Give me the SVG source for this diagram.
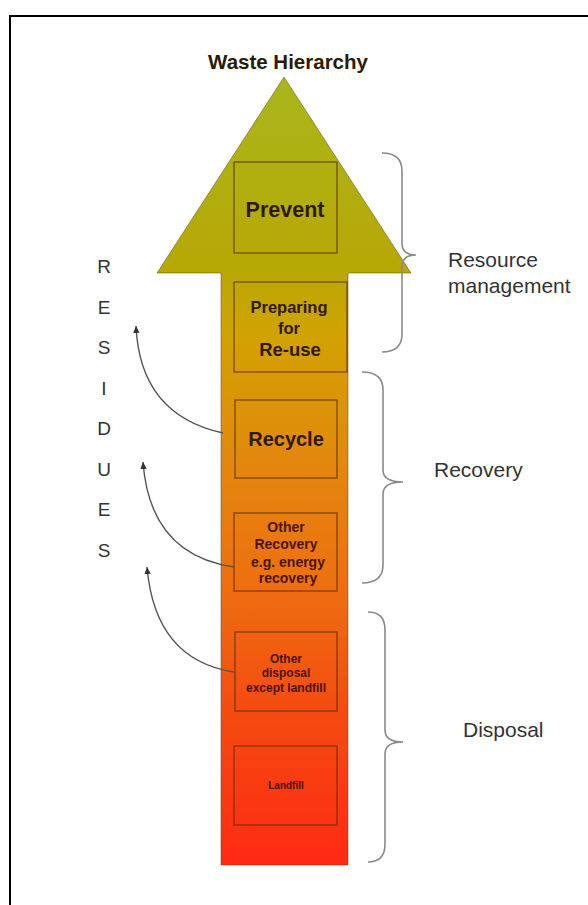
<svg xmlns="http://www.w3.org/2000/svg" width="588" height="905" viewBox="0 0 588 905">
<defs>
<linearGradient id="grad" gradientUnits="userSpaceOnUse" x1="0" y1="77" x2="0" y2="865">
<stop offset="0" stop-color="#a9b61c"/>
<stop offset="0.24" stop-color="#b7a806"/>
<stop offset="0.33" stop-color="#d2a200"/>
<stop offset="0.5" stop-color="#e4860e"/>
<stop offset="0.65" stop-color="#ee6e10"/>
<stop offset="0.8" stop-color="#f44c10"/>
<stop offset="1" stop-color="#fe2a14"/>
</linearGradient>
<marker id="ah" markerUnits="userSpaceOnUse" markerWidth="8" markerHeight="8" refX="7" refY="4" orient="auto">
<path d="M0,0.8 L7,4 L0,7.2 Z" fill="#333"/>
</marker>
<style>
.box{fill:none;stroke:#5a3000;stroke-opacity:0.7;stroke-width:1.4}
.bt{font-family:"Liberation Sans",Arial,sans-serif;font-weight:bold;text-anchor:middle;fill:#2e1a00}
.lt{font-family:"Liberation Sans",Arial,sans-serif;font-weight:bold;text-anchor:middle;fill:#4a1400}
.lab{font-family:"Liberation Sans",Arial,sans-serif;font-size:21px;fill:#333}
.res{font-family:"Liberation Sans",Arial,sans-serif;font-size:19px;fill:#333;text-anchor:middle}
.brace{fill:none;stroke:#8a8a8a;stroke-width:1.6}
.conn{fill:none;stroke:#555;stroke-width:1.4}
</style>
</defs>
<rect width="588" height="905" fill="#fff"/>
<path d="M10,905 V16 H588" fill="none" stroke="#000" stroke-width="2"/>
<text x="288" y="69" class="bt" font-size="20.5" fill="#1a1a1a">Waste Hierarchy</text>
<g id="arrow">
<path d="M284,77 L411,273 L348,273 L348,865 L221,865 L221,273 L157,273 Z" fill="url(#grad)" stroke="#6a4a00" stroke-opacity="0.5" stroke-width="1"/>
</g>
<g id="prevent">
<rect x="234" y="162" width="103" height="91" class="box"/>
<text x="285" y="217" class="bt" font-size="21.5">Prevent</text>
</g>
<g id="preparing">
<rect x="234" y="282" width="113" height="90" class="box"/>
<text x="289" y="313" class="bt" font-size="16.5">Preparing</text>
<text x="289" y="334" class="bt" font-size="16.5">for</text>
<text x="290" y="356" class="bt" font-size="18.5">Re-use</text>
</g>
<g id="recycle">
<rect x="235" y="400" width="102" height="78" class="box"/>
<text x="286" y="446" class="bt" font-size="20">Recycle</text>
</g>
<g id="other-recovery">
<rect x="234" y="513" width="103" height="78" class="box"/>
<text x="286" y="532" class="lt" font-size="14">Other</text>
<text x="286" y="549" class="lt" font-size="14">Recovery</text>
<text x="288" y="567" class="lt" font-size="14">e.g. energy</text>
<text x="288" y="583" class="lt" font-size="14">recovery</text>
</g>
<g id="other-disposal">
<rect x="235" y="632" width="102" height="79" class="box"/>
<text x="286" y="663" class="lt" font-size="12">Other</text>
<text x="286" y="677" class="lt" font-size="12">disposal</text>
<text x="286" y="692" class="lt" font-size="12">except landfill</text>
</g>
<g id="landfill">
<rect x="234" y="746" width="103" height="79" class="box"/>
<text x="286" y="789" class="lt" font-size="10" fill="#7a1400">Landfill</text>
</g>
<g id="residues">
<text x="104" y="273" class="res">R</text>
<text x="104" y="313.5" class="res">E</text>
<text x="104" y="354" class="res">S</text>
<text x="104" y="394.5" class="res">I</text>
<text x="104" y="435" class="res">D</text>
<text x="104" y="475.5" class="res">U</text>
<text x="104" y="516" class="res">E</text>
<text x="104" y="556.5" class="res">S</text>
</g>
<g id="connectors">
<path d="M223,433 Q140,415 136,326" class="conn" marker-end="url(#ah)"/>
<path d="M234,567 Q150,555 143,462" class="conn" marker-end="url(#ah)"/>
<path d="M234,672 Q155,660 147,567" class="conn" marker-end="url(#ah)"/>
</g>
<g id="brace-resource">
<path d="M382,153 Q402,153 402,171 L402,243 Q402,255 416,255 Q402,255 402,267 L402,334 Q402,352 382,352" class="brace"/>
<text x="448" y="267" class="lab">Resource</text>
<text x="448" y="293" class="lab">management</text>
</g>
<g id="brace-recovery">
<path d="M362,372 Q383,372 383,390 L383,470 Q383,482 403,482 Q383,482 383,494 L383,565 Q383,583 362,583" class="brace"/>
<text x="434" y="477" class="lab">Recovery</text>
</g>
<g id="brace-disposal">
<path d="M368,612 Q385,612 385,630 L385,730 Q385,742 403,742 Q385,742 385,754 L385,844 Q385,862 368,862" class="brace"/>
<text x="463" y="737" class="lab">Disposal</text>
</g>
</svg>
